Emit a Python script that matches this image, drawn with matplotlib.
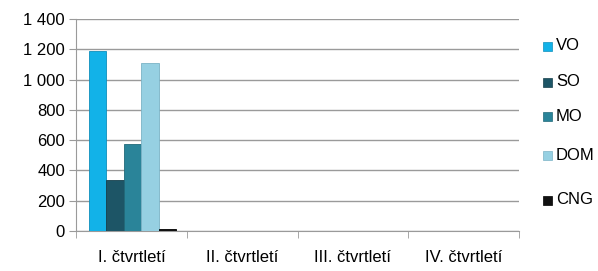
import matplotlib as mpl
mpl.use('Agg')
import matplotlib.pyplot as plt
import numpy as np

categories = ['I. čtvrtletí', 'II. čtvrtletí', 'III. čtvrtletí', 'IV. čtvrtletí']
series = ['VO', 'SO', 'MO', 'DOM', 'CNG']
values = {
    'VO': [1190, 0, 0, 0],
    'SO': [340, 0, 0, 0],
    'MO': [575, 0, 0, 0],
    'DOM': [1110, 0, 0, 0],
    'CNG': [12, 0, 0, 0],
}
colors = ['#12B2E8', '#1D5566', '#2A8499', '#96D0E2', '#111111']
edges = ['#0E8FBC', '#163F4C', '#216979', '#7BB3C6', '#000000']

GRID = '#9A9A9A'
plt.rcParams['font.family'] = ['Liberation Sans', 'DejaVu Sans']
FS = 12

fig = plt.figure(figsize=(5.98, 2.71), dpi=100)
ax = fig.add_axes([76 / 598, 40 / 271, 443 / 598, 212 / 271])

x = np.arange(len(categories))
w = 0.157
offset0 = -2 * w + 0.01
for i, name in enumerate(series):
    ax.bar(x + offset0 + i * w, values[name], width=w, color=colors[i],
           edgecolor=edges[i], linewidth=0.6, zorder=3, label=name)

ax.set_xlim(-0.5, len(categories) - 0.5)
ax.set_ylim(0, 1400)
ax.set_yticks(np.arange(0, 1401, 200))
ax.set_yticklabels(['{:,}'.format(v).replace(',', ' ') for v in range(0, 1401, 200)])
ax.set_xticks(x)
ax.set_xticklabels(categories)
ax.set_xticks(np.arange(-0.5, len(categories), 1), minor=True)

ax.yaxis.grid(True, color=GRID, linewidth=1.0, zorder=0)
for s in ['top', 'right']:
    ax.spines[s].set_visible(False)
ax.spines['left'].set_color(GRID)
ax.spines['bottom'].set_color(GRID)
ax.tick_params(axis='x', which='major', length=0, labelsize=FS, pad=14)
ax.tick_params(axis='x', which='minor', length=5, color=GRID, direction='out')
ax.tick_params(axis='y', length=5, color=GRID, labelsize=FS, pad=3)

leg_y = [46, 82, 117, 155, 200]
for i, name in enumerate(series):
    yy = 1 - leg_y[i] / 271
    fig.patches.append(mpl.patches.Rectangle((543 / 598, yy - 4.5 / 271), 9 / 598, 9 / 271,
                                             transform=fig.transFigure, facecolor=colors[i],
                                             edgecolor=edges[i], linewidth=0.5))
    fig.text(556 / 598, yy, name, fontsize=FS, va='center', ha='left')

fig.savefig('out.png', dpi=100)
